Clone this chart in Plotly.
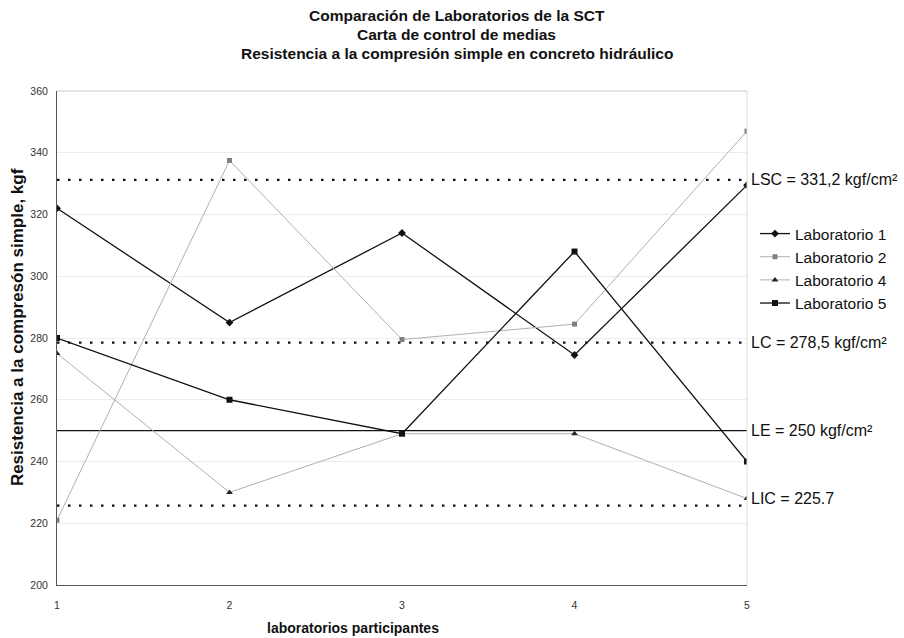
import plotly.graph_objects as go

# Participating laboratories (x axis)
laboratorios = [1, 2, 3, 4, 5]

# Mean compressive strength per laboratory series, kgf/cm²
lab1 = [322, 285, 314, 274.5, 329.5]
lab2 = [221, 337.5, 279.5, 284.5, 347]
lab4 = [275, 230, 249, 249, 228]
lab5 = [280, 260, 249, 308, 240]

# Control limits
limite_nombres = ["LSC", "LC", "LE", "LIC"]
limite_valores = [331.2, 278.5, 250, 225.7]
limite_textos = ["LSC = 331,2 kgf/cm²", "LC = 278,5 kgf/cm²", "LE = 250 kgf/cm²", "LIC = 225.7"]

y_ticks = [200, 220, 240, 260, 280, 300, 320, 340, 360]

titulos = [
    "Comparación de Laboratorios de la SCT",
    "Carta de control de medias",
    "Resistencia a la compresión simple en concreto hidráulico",
]

FONT = "Liberation Sans, Arial, sans-serif"
GRAY = "#b0b0b0"
W, H = 904, 638
L, R, T, B = 57, 155, 91, 53
PW, PH = W - L - R, H - T - B


def px_x(x):
    return (x - L) / PW


def px_y(y):
    return (H - B - y) / PH


fig = go.Figure()

# Control-limit lines (dotted for LSC/LC/LIC, solid for LE)
for nombre, valor in zip(limite_nombres, limite_valores):
    fig.add_trace(go.Scatter(
        x=[laboratorios[0], laboratorios[-1]], y=[valor, valor],
        mode="lines", showlegend=False, hoverinfo="skip",
        line=dict(color="#111111", width=1.3 if nombre == "LE" else 2.2,
                  dash="solid" if nombre == "LE" else "2.5px,8.5px"),
    ))

series = [
    ("Laboratorio 1", lab1, "#111111", 1.3, "diamond", 6, "#111111"),
    ("Laboratorio 2", lab2, GRAY, 1.0, "square", 5, "#808080"),
    ("Laboratorio 4", lab4, GRAY, 1.0, "triangle-up", 6, "#222222"),
    ("Laboratorio 5", lab5, "#111111", 1.3, "square", 6, "#111111"),
]
for nombre, valores, color, ancho, simbolo, tam, mcolor in series:
    fig.add_trace(go.Scatter(
        x=laboratorios, y=valores, name=nombre, mode="lines+markers",
        line=dict(color=color, width=ancho),
        marker=dict(symbol=simbolo, size=tam, color=mcolor),
    ))

# Limit labels on the right of the plot area
for nombre, valor, texto in zip(limite_nombres, limite_valores, limite_textos):
    fig.add_annotation(
        x=laboratorios[-1], y=valor, xref="x", yref="y", text=texto,
        showarrow=False, xanchor="left", yanchor="middle", xshift=2,
        yshift=7 if nombre == "LIC" else 0,
        font=dict(family=FONT, size=16, color="#111111"),
    )

# Three-line heading
for i, linea in enumerate(titulos):
    fig.add_annotation(
        x=px_x(458), y=px_y(16 + 18.5 * i), xref="paper", yref="paper",
        text=f"<b>{linea}</b>", showarrow=False,
        font=dict(family=FONT, size=15.5, color="#111111"),
        xanchor="center", yanchor="middle",
    )

# Axis titles
fig.add_annotation(
    x=px_x(354), y=px_y(628), xref="paper", yref="paper",
    text="<b>laboratorios participantes</b>", showarrow=False,
    font=dict(family=FONT, size=14, color="#111111"),
    xanchor="center", yanchor="middle",
)
fig.add_annotation(
    x=px_x(17), y=px_y(327), xref="paper", yref="paper", textangle=-90,
    text="<b>Resistencia a la compresón simple, kgf</b>", showarrow=False,
    font=dict(family=FONT, size=17, color="#111111"),
    xanchor="center", yanchor="middle",
)

fig.update_layout(
    width=W, height=H,
    margin=dict(l=L, r=R, t=T, b=B),
    paper_bgcolor="white", plot_bgcolor="white",
    font=dict(family=FONT, color="#222222"),
    showlegend=True,
    legend=dict(
        x=px_x(757), y=px_y(217), xanchor="left", yanchor="top",
        font=dict(family=FONT, size=15.5, color="#111111"),
        bgcolor="rgba(0,0,0,0)", tracegroupgap=0, itemwidth=30,
    ),
    xaxis=dict(
        range=[1, 5], tickvals=laboratorios, ticks="", showgrid=False,
        showline=True, linecolor="#555555", linewidth=1, mirror=False,
        tickfont=dict(family=FONT, size=10.5, color="#333333"), zeroline=False,
        ticklabelstandoff=10,
    ),
    yaxis=dict(
        range=[200, 360], tickvals=y_ticks, ticks="", showgrid=True,
        gridcolor="#ececec", gridwidth=1,
        showline=True, linecolor="#555555", linewidth=1,
        tickfont=dict(family=FONT, size=10.5, color="#333333"), zeroline=False,
        ticklabelstandoff=6,
    ),
)

# Light frame on top and right edges of the plot area
fig.add_shape(type="line", xref="paper", yref="paper", x0=0, x1=1, y0=1, y1=1,
              line=dict(color="#c8c8c8", width=1))
fig.add_shape(type="line", xref="paper", yref="paper", x0=1, x1=1, y0=0, y1=1,
              line=dict(color="#dddddd", width=1))

fig.write_html("out.html")
